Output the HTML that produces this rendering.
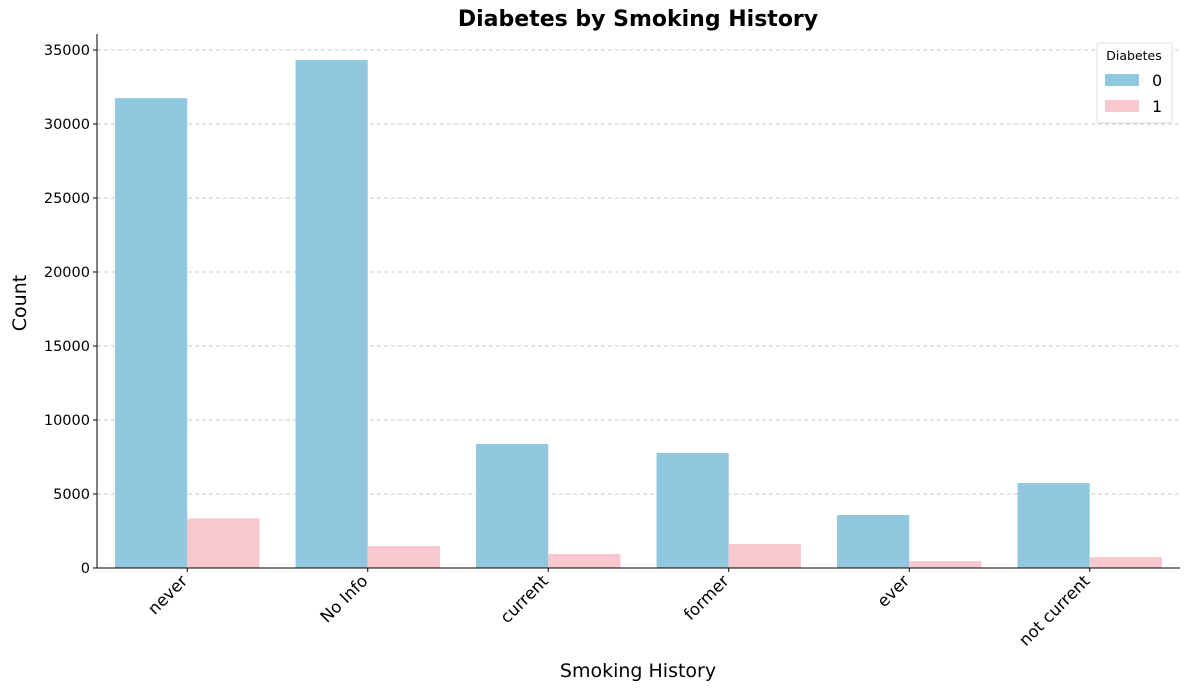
<!DOCTYPE html>
<html><head><meta charset="utf-8"><style>
body{margin:0;background:#fff;}
svg text{font-family:"DejaVu Sans","Liberation Sans",sans-serif;}
</style></head><body>
<svg id="chart" width="1189" height="690" xmlns="http://www.w3.org/2000/svg">
<text x="638" y="26" text-anchor="middle" font-size="22" font-weight="bold">Diabetes by Smoking History</text>
<g id="grid"></g>
<g id="bars"></g>
<g id="axes"></g>
<text x="638" y="677" text-anchor="middle" font-size="19">Smoking History</text>
<text transform="translate(26,303) rotate(-90)" text-anchor="middle" font-size="19">Count</text>
<g>
<rect x="1097" y="43" width="75" height="80" rx="3" fill="#fff" stroke="#ddd"/>
<text x="1134" y="60" text-anchor="middle" font-size="12.5">Diabetes</text>
<rect x="1105" y="74" width="34" height="12" fill="#92c8df"/>
<text x="1152" y="86" font-size="16">0</text>
<rect x="1105" y="100" width="34" height="12" fill="#f8c8d1"/>
<text x="1152" y="112" font-size="16">1</text>
</g>
</svg>
<script>
const categories=["never","No Info","current","former","ever","not current"];
const series0=[31750,34320,8380,7770,3580,5740];
const series1=[3350,1490,950,1620,470,740];
const yTicks=[0,5000,10000,15000,20000,25000,30000,35000];
const NS="http://www.w3.org/2000/svg";
const L=97,R=1180,T=34,B=568;
const band=(R-L)/categories.length;
const y=v=>B-v*(518/35000);
const x=i=>L+band*i+band/2;
function mk(t,a,p){const e=document.createElementNS(NS,t);for(const k in a)e.setAttribute(k,a[k]);p.appendChild(e);return e;}
const grid=document.getElementById('grid'),bars=document.getElementById('bars'),axes=document.getElementById('axes');
yTicks.forEach(v=>{
 if(v>0){const g=mk('line',{x1:L,x2:R,y1:y(v),y2:y(v),stroke:'#c8c8c8','stroke-dasharray':'4,3'},grid);
 
 }
 mk('line',{x1:L-4,x2:L,y1:y(v),y2:y(v),stroke:'#000'},axes);
 const t=mk('text',{x:L-7,y:y(v)+5,'text-anchor':'end','font-size':14.5},axes);t.textContent=v;
 
 
});
const bw=band*0.4;
categories.forEach((c,i)=>{
 const cx=x(i);
 const b0=mk('rect',{x:cx-bw,y:y(series0[i]),width:bw,height:B-y(series0[i]),fill:'#92c8df'},bars);
 
 
 const b1=mk('rect',{x:cx,y:y(series1[i]),width:bw,height:B-y(series1[i]),fill:'#f8c8d1'},bars);
 
 
 mk('line',{x1:cx,x2:cx,y1:B,y2:B+4,stroke:'#000'},axes);
 const t=mk('text',{transform:`translate(${cx+1},${B+14}) rotate(-45)`,'text-anchor':'end','font-size':16.5},axes);t.textContent=c;
 
 
});
mk('line',{x1:L,x2:L,y1:T,y2:B,stroke:'#000'},axes);
mk('line',{x1:L,x2:R,y1:B,y2:B,stroke:'#000'},axes);
</script>
</body></html>
